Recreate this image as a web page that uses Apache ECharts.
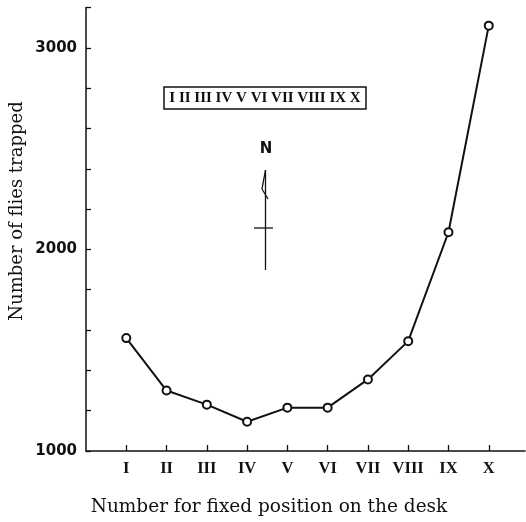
<!DOCTYPE html>
<html>
<head>
<meta charset="utf-8">
<script src="https://cdn.jsdelivr.net/npm/echarts@6/dist/echarts.min.js"></script>
<style>html,body{margin:0;padding:0;background:#fff}#c{width:526px;height:522px}</style>
</head>
<body>
<div id="c"></div>
<script>
const positions = [1, 2, 3, 4, 5, 6, 7, 8, 9, 10];
const romanLabels = ['I', 'II', 'III', 'IV', 'V', 'VI', 'VII', 'VIII', 'IX', 'X'];
const fliesTrapped = [1560, 1300, 1230, 1145, 1215, 1215, 1355, 1545, 2085, 3110];
const yTickLabels = [1000, 2000, 3000];
const xTitle = 'Number for fixed position on the desk';
const yTitle = 'Number of flies trapped';

const chart = echarts.init(document.getElementById('c'), null, {renderer: 'canvas'});
const serif = '"Liberation Serif", "DejaVu Serif", serif';
const wideSerif = '"DejaVu Serif", "Liberation Serif", serif';
const sans = '"DejaVu Sans", "Liberation Sans", sans-serif';

chart.setOption({
  animation: false,
  backgroundColor: '#fff',
  grid: {left: 86, top: 7.5, width: 439, height: 443.5, containLabel: false},
  xAxis: {
    type: 'value', min: 0, max: 10.9,
    axisLine: {show: true, lineStyle: {color: '#111', width: 1.5}},
    axisTick: {show: true, inside: true, length: 6, lineStyle: {color: '#111', width: 1.3},
               customValues: positions},
    axisLabel: {
      margin: 9, color: '#111', fontFamily: serif, fontWeight: 'bold', fontSize: 16.5,
      customValues: positions,
      formatter: v => romanLabels[positions.indexOf(v)] || ''
    },
    splitLine: {show: false}
  },
  yAxis: {
    type: 'value', min: 1000, max: 3200, interval: 200,
    axisLine: {show: true, lineStyle: {color: '#111', width: 1.5}},
    axisTick: {show: true, inside: true, length: 5, lineStyle: {color: '#111', width: 1.3}},
    splitLine: {show: false},
    axisLabel: {
      margin: 9, color: '#111', fontFamily: sans, fontWeight: 'bold', fontSize: 15,
      formatter: v => yTickLabels.indexOf(v) >= 0 ? String(v) : ''
    }
  },
  series: [{
    type: 'line',
    data: positions.map((p, i) => [p, fliesTrapped[i]]),
    lineStyle: {color: '#111', width: 2},
    itemStyle: {color: '#fff', borderColor: '#111', borderWidth: 2},
    symbol: 'circle', symbolSize: 8, showSymbol: true
  }],
  graphic: [
    {type: 'text', x: 269, y: 507,
     style: {text: xTitle, fill: '#111', font: '18.5px ' + wideSerif,
             textAlign: 'center', textVerticalAlign: 'middle'}},
    {type: 'text', x: 17, y: 211, rotation: Math.PI / 2,
     style: {text: yTitle, fill: '#111', font: '18px ' + wideSerif,
             textAlign: 'center', textVerticalAlign: 'middle'}},
    {type: 'rect', shape: {x: 164, y: 87, width: 202, height: 22},
     style: {fill: 'none', stroke: '#111', lineWidth: 1.5}},
    {type: 'text', x: 265, y: 98,
     style: {text: romanLabels.join(' '), fill: '#111', font: 'bold 15px ' + serif,
             textAlign: 'center', textVerticalAlign: 'middle'}},
    {type: 'text', x: 266, y: 149,
     style: {text: 'N', fill: '#111', font: 'bold 15px ' + sans,
             textAlign: 'center', textVerticalAlign: 'middle'}},
    {type: 'line', shape: {x1: 265.5, y1: 170, x2: 265.5, y2: 270},
     style: {stroke: '#111', lineWidth: 1.3}},
    {type: 'line', shape: {x1: 254, y1: 228, x2: 273, y2: 228},
     style: {stroke: '#111', lineWidth: 1.3}},
    {type: 'polyline', shape: {points: [[265.5, 170], [262, 189], [268, 199]]},
     style: {stroke: '#111', lineWidth: 1.3, fill: 'none'}}
  ]
});
</script>
</body>
</html>
